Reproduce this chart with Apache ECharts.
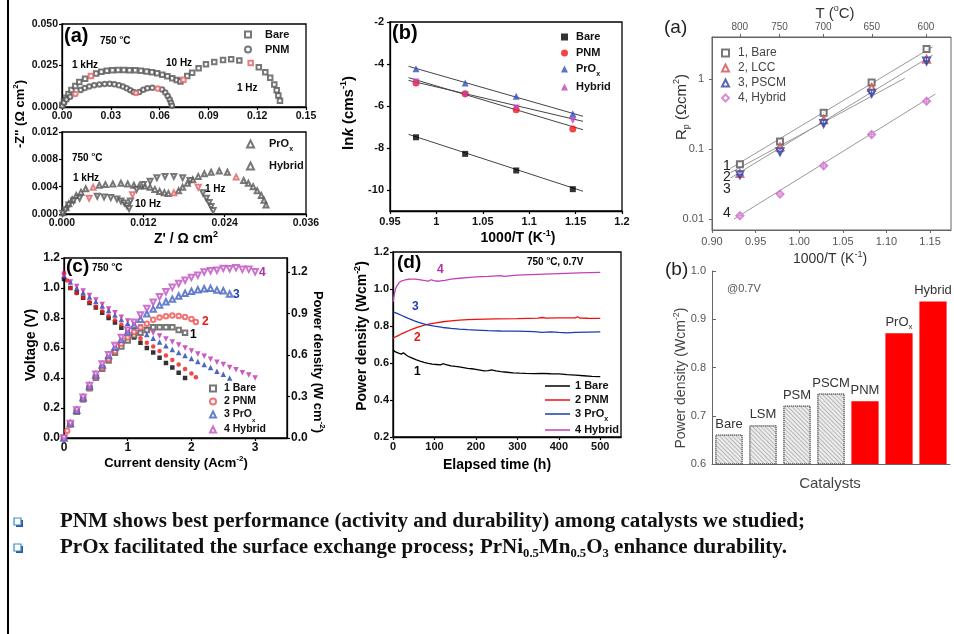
<!DOCTYPE html>
<html><head><meta charset="utf-8">
<script src="https://cdn.jsdelivr.net/npm/echarts@6/dist/echarts.min.js"></script>
<style>html,body{margin:0;padding:0;background:#fff}#c{width:954px;height:634px}</style>
</head><body><div id="c"></div><script>
// ---------- (a) Nyquist, 750 C : [Z', -Z''] ----------
const nyqBare = [[0.0002,0.0012],[0.0012,0.0033],[0.0024,0.0055],[0.0040,0.0078],[0.0058,0.0102],[0.0082,0.0127],[0.0106,0.0150],[0.0142,0.0170],[0.0210,0.0202],[0.0242,0.0212],[0.0276,0.0218],[0.0310,0.0222],[0.0345,0.0223],[0.0380,0.0223],[0.0415,0.0222],[0.0450,0.0221],[0.0485,0.0218],[0.0520,0.0214],[0.0553,0.0209],[0.0585,0.0203],[0.0617,0.0195],[0.0648,0.0185],[0.0678,0.0173],[0.0705,0.0162],[0.0728,0.0154],[0.0770,0.0186],[0.0800,0.0206],[0.0840,0.0233],[0.0885,0.0257],[0.0936,0.0271],[0.0990,0.0283],[0.1040,0.0287],[0.1090,0.0280],[0.1210,0.0240],[0.1250,0.0210],[0.1280,0.0176],[0.1305,0.0136],[0.1320,0.0101],[0.1330,0.0069],[0.1340,0.0038]];
const nyqBareHz = [[0.0178,0.0186],[0.0746,0.0164],[0.1160,0.0265]];
const nyqPNM = [[0.0002,0.0008],[0.0012,0.0026],[0.0028,0.0045],[0.0050,0.0062],[0.0115,0.0103],[0.0140,0.0114],[0.0168,0.0124],[0.0198,0.0131],[0.0230,0.0136],[0.0262,0.0139],[0.0293,0.0140],[0.0322,0.0137],[0.0350,0.0131],[0.0375,0.0123],[0.0398,0.0113],[0.0420,0.0101],[0.0440,0.0090],[0.0475,0.0090],[0.0500,0.0104],[0.0525,0.0113],[0.0555,0.0116],[0.0615,0.0106],[0.0635,0.0088],[0.0650,0.0066],[0.0662,0.0045],[0.0670,0.0026],[0.0676,0.0008]];
const nyqPNMHz = [[0.0082,0.0079],[0.0455,0.0085],[0.0588,0.0111]];
const nyqPrOx = [[0.0001,0.0002],[0.0006,0.0009],[0.0010,0.0015],[0.0015,0.0021],[0.0021,0.0027],[0.0028,0.0032],[0.0035,0.0037],[0.0055,0.0042],[0.0064,0.0043],[0.0075,0.0044],[0.0087,0.0045],[0.0097,0.0044],[0.0106,0.0042],[0.0114,0.0041],[0.0122,0.0041],[0.0130,0.0039],[0.0137,0.0036],[0.0144,0.0033],[0.0151,0.0031],[0.0157,0.0030],[0.0172,0.0034],[0.0178,0.0039],[0.0185,0.0045],[0.0193,0.0050],[0.0201,0.0055],[0.0210,0.0059],[0.0220,0.0061],[0.0232,0.0063],[0.0244,0.0061],[0.0268,0.0049],[0.0275,0.0045],[0.0282,0.0040],[0.0288,0.0034],[0.0294,0.0027],[0.0298,0.0020],[0.0301,0.0013]];
const nyqPrOxHz = [[0.0046,0.0039],[0.0165,0.0031],[0.0257,0.0054]];
const nyqHybrid = [[0.0001,0.0001],[0.0005,0.0006],[0.0010,0.0013],[0.0017,0.0019],[0.0026,0.0023],[0.0052,0.0026],[0.0062,0.0025],[0.0072,0.0024],[0.0081,0.0022],[0.0087,0.0019],[0.0092,0.0016],[0.0096,0.0012],[0.0099,0.0008],[0.0101,0.0019],[0.0110,0.0036],[0.0120,0.0043],[0.0130,0.0048],[0.0140,0.0053],[0.0152,0.0055],[0.0165,0.0055],[0.0178,0.0053],[0.0189,0.0049],[0.0208,0.0031],[0.0213,0.0023],[0.0217,0.0017],[0.0220,0.0011],[0.0223,0.0005]];
const nyqHybridHz = [[0.0040,0.0023],[0.0104,0.0028],[0.0201,0.0039]];

// ---------- (b) ln k vs 1000/T ----------
const invT_b = [0.978, 1.031, 1.086, 1.147];
const lnkBare = [-7.49, -8.28, -9.07, -9.96];
const lnkPNM = [-4.91, -5.42, -6.18, -7.10];
const lnkPrOx = [-4.23, -4.91, -5.53, -6.37];
const lnkHybrid = [-4.86, -5.47, -6.10, -6.69];
const fitLnkBare = [[0.970,-7.35],[1.158,-10.06]];
const fitLnkPNM = [[0.970,-4.65],[1.158,-7.13]];
const fitLnkPrOx = [[0.970,-4.11],[1.158,-6.49]];
const fitLnkHybrid = [[0.970,-4.78],[1.158,-6.73]];

// ---------- (a, right) Rp vs 1000/T ----------
const invT_r = [0.932, 0.978, 1.028, 1.083, 1.146];
const tempTicks = [800, 750, 700, 650, 600];
const rpBare = [0.061, 0.129, 0.33, 0.895, 2.69];
const rpLCC = [0.045, 0.107, 0.263, 0.76, 1.92];
const rpPSCM = [0.043, 0.092, 0.232, 0.63, 1.82];
const rpHybrid = [0.0112, 0.0228, 0.058, 0.162, 0.484];
const fitRpBare = [[0.921,0.053],[1.153,2.90]];
const fitRpLCC = [[0.921,0.046],[1.121,1.03]];
const fitRpPSCM = [[0.921,0.0385],[1.153,2.21]];
const fitRpHybrid = [[0.925,0.0100],[1.156,0.612]];

// ---------- (c) I-V-P at 750 C ----------
const ivBareV = [[0,1.06],[0.1,1.00],[0.2,0.97],[0.3,0.935],[0.4,0.90],[0.5,0.87],[0.6,0.835],[0.7,0.80],[0.8,0.77],[0.9,0.735],[1.0,0.705],[1.1,0.67],[1.2,0.635],[1.3,0.60],[1.4,0.57],[1.5,0.535],[1.6,0.50],[1.7,0.47],[1.8,0.435],[1.9,0.40]];
const ivBareP = [[0,0],[0.1,0.10],[0.2,0.19],[0.3,0.28],[0.4,0.36],[0.5,0.435],[0.6,0.50],[0.7,0.56],[0.8,0.615],[0.9,0.66],[1.0,0.705],[1.1,0.74],[1.2,0.76],[1.3,0.78],[1.4,0.80],[1.5,0.80],[1.6,0.80],[1.7,0.80],[1.8,0.78],[1.9,0.76]];
const ivPNMV = [[0,1.10],[0.05,1.05],[0.1,1.00],[0.2,0.965],[0.3,0.935],[0.4,0.905],[0.5,0.875],[0.6,0.845],[0.7,0.815],[0.8,0.785],[0.9,0.755],[1.0,0.725],[1.1,0.695],[1.2,0.665],[1.3,0.635],[1.4,0.61],[1.5,0.58],[1.6,0.55],[1.7,0.52],[1.8,0.49],[1.9,0.46],[2.0,0.43],[2.07,0.405]];
const ivPNMP = [[0,0],[0.05,0.053],[0.1,0.10],[0.2,0.193],[0.3,0.28],[0.4,0.362],[0.5,0.438],[0.6,0.507],[0.7,0.57],[0.8,0.628],[0.9,0.68],[1.0,0.725],[1.1,0.765],[1.2,0.798],[1.3,0.826],[1.4,0.854],[1.5,0.87],[1.6,0.88],[1.7,0.884],[1.8,0.882],[1.9,0.874],[2.0,0.86],[2.07,0.838]];
const ivPrOxV = [[0,1.08],[0.1,1.04],[0.2,1.00],[0.3,0.97],[0.4,0.94],[0.5,0.91],[0.6,0.88],[0.7,0.85],[0.8,0.82],[0.9,0.79],[1.0,0.765],[1.1,0.74],[1.2,0.715],[1.3,0.69],[1.4,0.665],[1.5,0.64],[1.6,0.615],[1.7,0.59],[1.8,0.57],[1.9,0.55],[2.0,0.53],[2.1,0.51],[2.2,0.49],[2.3,0.47],[2.4,0.445],[2.5,0.425],[2.6,0.40]];
const ivPrOxP = [[0,0],[0.1,0.104],[0.2,0.20],[0.3,0.291],[0.4,0.376],[0.5,0.455],[0.6,0.528],[0.7,0.595],[0.8,0.656],[0.9,0.711],[1.0,0.765],[1.1,0.814],[1.2,0.858],[1.3,0.897],[1.4,0.931],[1.5,0.96],[1.6,0.984],[1.7,1.003],[1.8,1.026],[1.9,1.045],[2.0,1.06],[2.1,1.071],[2.2,1.078],[2.3,1.081],[2.4,1.068],[2.5,1.063],[2.6,1.04]];
const ivHybridV = [[0,1.08],[0.1,1.04],[0.2,1.01],[0.3,0.98],[0.4,0.95],[0.5,0.92],[0.6,0.89],[0.7,0.86],[0.8,0.835],[0.9,0.805],[1.0,0.78],[1.1,0.76],[1.2,0.74],[1.3,0.72],[1.4,0.70],[1.5,0.68],[1.6,0.66],[1.7,0.64],[1.8,0.62],[1.9,0.60],[2.0,0.58],[2.1,0.56],[2.2,0.545],[2.3,0.525],[2.4,0.505],[2.5,0.49],[2.6,0.47],[2.7,0.455],[2.8,0.435],[2.9,0.42],[3.0,0.40]];
const ivHybridP = [[0,0],[0.1,0.104],[0.2,0.202],[0.3,0.294],[0.4,0.38],[0.5,0.46],[0.6,0.534],[0.7,0.602],[0.8,0.668],[0.9,0.725],[1.0,0.78],[1.1,0.836],[1.2,0.888],[1.3,0.936],[1.4,0.98],[1.5,1.02],[1.6,1.056],[1.7,1.088],[1.8,1.116],[1.9,1.14],[2.0,1.16],[2.1,1.176],[2.2,1.199],[2.3,1.208],[2.4,1.212],[2.5,1.225],[2.6,1.222],[2.7,1.229],[2.8,1.218],[2.9,1.218],[3.0,1.20]];

// ---------- (d) durability at 750 C, 0.7 V : [h, W cm-2] ----------
const durBare = [[0,0.672],[3,0.665],[6,0.66],[10,0.657],[15,0.652],[20,0.648],[25,0.655],[28,0.645],[35,0.638],[45,0.628],[55,0.618],[65,0.61],[75,0.603],[85,0.598],[95,0.594],[105,0.592],[115,0.59],[120,0.596],[124,0.586],[130,0.59],[140,0.584],[150,0.582],[160,0.579],[170,0.575],[180,0.571],[190,0.569],[200,0.566],[210,0.562],[220,0.557],[230,0.559],[238,0.563],[242,0.566],[248,0.557],[260,0.553],[275,0.55],[290,0.547],[305,0.545],[320,0.544],[340,0.543],[360,0.544],[380,0.542],[400,0.541],[420,0.537],[440,0.534],[460,0.531],[480,0.528],[500,0.526]];
const durPNM = [[0,0.735],[10,0.745],[20,0.757],[30,0.767],[40,0.777],[50,0.786],[60,0.794],[70,0.801],[80,0.807],[90,0.812],[100,0.816],[120,0.823],[140,0.828],[160,0.832],[180,0.835],[200,0.836],[250,0.838],[300,0.84],[350,0.843],[360,0.846],[370,0.843],[400,0.844],[440,0.844],[445,0.85],[450,0.843],[470,0.842],[500,0.841]];
const durPrOx = [[0,0.876],[10,0.868],[20,0.858],[30,0.848],[40,0.838],[50,0.829],[60,0.821],[70,0.814],[80,0.808],[90,0.803],[100,0.799],[120,0.792],[140,0.787],[160,0.783],[180,0.78],[200,0.778],[230,0.775],[260,0.773],[300,0.772],[340,0.77],[360,0.766],[380,0.768],[400,0.765],[420,0.763],[440,0.766],[470,0.767],[500,0.768]];
const durHybrid = [[0,0.93],[3,0.97],[6,1.0],[10,1.02],[15,1.035],[20,1.043],[30,1.05],[40,1.053],[55,1.053],[70,1.048],[85,1.043],[92,1.05],[95,1.06],[98,1.045],[110,1.042],[125,1.047],[140,1.053],[160,1.058],[180,1.062],[200,1.065],[230,1.068],[260,1.072],[268,1.068],[300,1.075],[350,1.079],[400,1.083],[450,1.087],[500,1.09]];

// ---------- (b, right) power density @0.7V ----------
const catalysts = ['Bare','LSM','PSM','PSCM','PNM','PrOx','Hybrid'];
const pd07 = [0.661, 0.680, 0.721, 0.746, 0.730, 0.871, 0.937];
const catalystIsNew = [false,false,false,false,true,true,true];

// ---------- bullet text ----------
const bullet1 = 'PNM shows best performance (activity and durability) among catalysts we studied;';
const bullet2Parts = [['n','PrOx facilitated the surface exchange process; PrNi'],['s','0.5'],['n','Mn'],['s','0.5'],['n','O'],['s','3'],['n',' enhance durability.']];

// =====================================================================
const F = "'Liberation Sans', Arial, Helvetica, sans-serif";
const FS = "'Liberation Serif', 'Times New Roman', serif";
const BLK = '#000', GRY = '#666';
const colRed = '#f01818', colBlue = '#2040b0', colMag = '#c030b0';

function rich(size, color, weight, family) {
  family = family || F;
  return {
    n: {fontSize: size, color, fontWeight: weight, fontFamily: family},
    s: {fontSize: Math.round(size*0.6), color, fontWeight: weight, fontFamily: family, verticalAlign: 'bottom', padding: [0,0,-2,0]},
    u: {fontSize: Math.round(size*0.62), color, fontWeight: weight, fontFamily: family, verticalAlign: 'top', padding: [-2,0,0,0]},
    i: {fontSize: size, color, fontWeight: weight, fontFamily: family, fontStyle: 'italic'}
  };
}

function valAxis(dark, o) {
  const ax = {
    type: 'value',
    splitLine: {show: false},
    axisLine: {show: true, onZero: false, lineStyle: {color: dark ? BLK : GRY, width: dark ? 1.3 : 1}},
    axisTick: {show: true, inside: false, length: 3, lineStyle: {color: dark ? BLK : GRY, width: dark ? 1.2 : 1}},
    axisLabel: {fontFamily: F, fontSize: 10.5, fontWeight: dark ? 'bold' : 'normal', color: dark ? '#111' : '#555', margin: 4}
  };
  for (const k in o) {
    if (ax[k] && typeof ax[k] === 'object' && !Array.isArray(ax[k]) && typeof o[k] === 'object') ax[k] = Object.assign({}, ax[k], o[k]);
    else ax[k] = o[k];
  }
  return ax;
}
const fx = d => v => v.toFixed(d);
const tT = t => 1000 / (t + 273.15);

function gtext(x, y, text, size, color, weight, opt) {
  opt = opt || {};
  const el = {
    type: 'text', x, y, rotation: opt.rot || 0, z: 100,
    style: {
      text, fill: color, fontSize: size, fontWeight: weight, fontFamily: opt.family || F,
      textAlign: opt.align || 'left', align: opt.align || 'left',
      textVerticalAlign: 'middle', verticalAlign: 'middle',
      rich: rich(size, color, weight, opt.family)
    }
  };
  if (opt.scaleX) el.scaleX = opt.scaleX;
  return el;
}

// the reference bullet lines run from x=60 to about x=805 in a condensed Times Bold
const BFS = 20;
const mctx = document.createElement('canvas').getContext('2d');
mctx.font = "bold " + BFS + "px " + FS;
const b1w = mctx.measureText(bullet1).width;
const bScale = 745 / b1w;
const bullet2Rich = bullet2Parts.map(p => '{' + p[0] + '|' + p[1] + '}').join('');

const scat = (name, data, x, y, symbol, color, size, extra) => Object.assign({
  type: 'scatter', name, data, xAxisIndex: x, yAxisIndex: y, symbol, symbolSize: size,
  itemStyle: {color, borderWidth: 0.9}, emphasis: {disabled: true}, z: 3
}, extra || {});
const fitLine = (name, data, x, y, color) => ({
  type: 'line', name, data, xAxisIndex: x, yAxisIndex: y, showSymbol: false, symbol: 'none',
  lineStyle: {color, width: 1}, itemStyle: {color}, emphasis: {disabled: true}, z: 2, silent: true
});
const durLine = (name, data, color) => ({
  type: 'line', name, data, xAxisIndex: 6, yAxisIndex: 6, showSymbol: false, symbol: 'none',
  lineStyle: {color, width: 1.3}, itemStyle: {color}, emphasis: {disabled: true}, z: 2
});

const dispNames = {
  aBare: 'Bare', aPNM: 'PNM', aPrOx: '{n|PrO}{s|x}', aHybrid: 'Hybrid',
  bBare: 'Bare', bPNM: 'PNM', bPrOx: '{n|PrO}{s|x}', bHybrid: 'Hybrid',
  rBare: '1, Bare', rLCC: '2, LCC', rPSCM: '3, PSCM', rHybrid: '4, Hybrid',
  cBare: '1 Bare', cPNM: '2 PNM', cPrOx: '{n|3 PrO}{s|x}', cHybrid: '4 Hybrid',
  dBare: '1 Bare', dPNM: '2 PNM', dPrOx: '{n|3 PrO}{s|x}', dHybrid: '4 Hybrid'
};
function legend(names, left, top, gap, size, color, weight, iw, ih, lh, textPad, icon) {
  const r = rich(size, color, weight);
  r.n.lineHeight = lh; r.s.lineHeight = lh;
  const lg = {
    orient: 'vertical', left, top, itemGap: gap, itemWidth: iw, itemHeight: ih,
    selectedMode: false, padding: 0, data: names,
    formatter: n => dispNames[n].indexOf('{') >= 0 ? dispNames[n] : '{n|' + dispNames[n] + '}',
    textStyle: {fontFamily: F, fontSize: size, fontWeight: weight, color, lineHeight: lh, rich: r, padding: [0,0,0,textPad || 0]},
    itemStyle: {borderWidth: 0.9}
  };
  if (icon) { lg.icon = icon; lg.itemStyle = {borderWidth: 0}; }
  return lg;
}

const option = {
  animation: false,
  backgroundColor: '#fff',
  grid: [
    {left: 62, top: 24, width: 244, height: 83, show: true, borderColor: BLK, borderWidth: 1.3},   // 0 a-top
    {left: 62, top: 132, width: 244, height: 82, show: true, borderColor: BLK, borderWidth: 1.3},  // 1 a-bottom
    {left: 390, top: 22, width: 232, height: 189, show: true, borderColor: BLK, borderWidth: 1.3}, // 2 b
    {left: 712, top: 37, width: 239, height: 193, show: true, borderColor: GRY, borderWidth: 1},   // 3 Rp
    {left: 64, top: 258, width: 223, height: 180, show: true, borderColor: BLK, borderWidth: 1.3}, // 4 c
    {left: 393, top: 252, width: 228, height: 185, show: true, borderColor: BLK, borderWidth: 1.3},// 5 d
    {left: 712, top: 271, width: 238, height: 193, show: false}                                     // 6 bars
  ],
  xAxis: [
    valAxis(true, {gridIndex: 0, min: 0, max: 0.15, interval: 0.03, axisLabel: {formatter: fx(2)}}),
    valAxis(true, {gridIndex: 1, min: 0, max: 0.036, interval: 0.012, axisLabel: {formatter: fx(3)}}),
    valAxis(true, {gridIndex: 2, min: 0.95, max: 1.2, interval: 0.05, axisLabel: {fontSize: 11, margin: 5}}),
    valAxis(false, {gridIndex: 3, min: 0.90, max: 1.174, interval: 0.05, axisLabel: {formatter: fx(2), showMaxLabel: false, fontSize: 11, margin: 6}}),
    valAxis(false, {gridIndex: 3, position: 'top', min: 0.90, max: 1.174,
      axisTick: {customValues: tempTicks.map(tT)},
      axisLabel: {customValues: tempTicks.map(tT), formatter: v => String(Math.round(1000 / v - 273.15)), fontSize: 10, margin: 5}}),
    valAxis(true, {gridIndex: 4, min: 0, max: 3.5, interval: 1, axisLabel: {showMaxLabel: false, fontSize: 12}}),
    valAxis(true, {gridIndex: 5, min: 0, max: 550, interval: 100, axisLabel: {showMaxLabel: false, fontSize: 11}}),
    {type: 'category', gridIndex: 6, data: catalysts, axisLabel: {show: false},
      axisLine: {lineStyle: {color: GRY}}, axisTick: {alignWithLabel: true, length: 4, lineStyle: {color: GRY}}}
  ],
  yAxis: [
    valAxis(true, {gridIndex: 0, min: 0, max: 0.05, interval: 0.025, axisLabel: {formatter: fx(3)}}),
    valAxis(true, {gridIndex: 1, min: 0, max: 0.012, interval: 0.004, axisLabel: {formatter: fx(3)}}),
    valAxis(true, {gridIndex: 2, min: -11, max: -2, interval: 1,
      axisTick: {customValues: [-10,-8,-6,-4,-2]},
      axisLabel: {customValues: [-10,-8,-6,-4,-2], fontSize: 11, margin: 6}}),
    valAxis(false, {gridIndex: 3, type: 'log', logBase: 10, min: 0.007, max: 4,
      axisLabel: {showMinLabel: false, showMaxLabel: false, fontSize: 11, margin: 8, formatter: v => String(+(+v).toPrecision(2))}}),
    valAxis(true, {gridIndex: 4, min: 0, max: 1.2, interval: 0.2, axisLabel: {formatter: fx(1), fontSize: 12}}),
    valAxis(true, {gridIndex: 4, position: 'right', min: 0, max: 1.3, interval: 0.3, axisLabel: {formatter: fx(1), fontSize: 12, showMaxLabel: false}}),
    valAxis(true, {gridIndex: 5, min: 0.2, max: 1.2, interval: 0.2, axisLabel: {formatter: fx(1), fontSize: 11}}),
    valAxis(false, {gridIndex: 6, min: 0.6, max: 1.0, interval: 0.1, axisLabel: {formatter: fx(1), fontSize: 11, margin: 6},
      axisTick: {inside: true, length: 4}})
  ],
  legend: [
    legend(['aBare','aPNM'], 244, 28, 2, 11, '#111', 'bold', 6, 6, 13, 9),
    legend(['aPrOx','aHybrid'], 246, 137, 6, 11, '#111', 'bold', 7, 7, 14, 10),
    legend(['bBare','bPNM','bPrOx','bHybrid'], 561, 30, 2, 11, '#111', 'bold', 7, 7, 14, 3),
    legend(['rBare','rLCC','rPSCM','rHybrid'], 721, 46, 1, 12, '#444', 'normal', 7, 7, 14, 4),
    legend(['cBare','cPNM','cPrOx','cHybrid'], 209, 382, 0, 10.5, '#111', 'bold', 6, 6, 13, 3),
    legend(['dBare','dPNM','dPrOx','dHybrid'], 545, 379, 0, 11, '#111', 'bold', 25, 1.5, 14, 0, 'rect')
  ],
  series: [
    // (a) top
    scat('aBare', nyqBare, 0, 0, 'emptyRect', '#555', 4.5),
    scat('aPNM', nyqPNM, 0, 0, 'emptyCircle', '#555', 4.5),
    scat('aBareHz', nyqBareHz, 0, 0, 'emptyRect', '#e06060', 4.5),
    scat('aPNMHz', nyqPNMHz, 0, 0, 'emptyCircle', '#e06060', 4.5),
    // (a) bottom
    scat('aPrOx', nyqPrOx, 1, 1, 'emptyTriangle', '#555', 5),
    scat('aHybrid', nyqHybrid, 1, 1, 'emptyTriangle', '#555', 5, {symbolRotate: 180}),
    scat('aPrOxHz', nyqPrOxHz, 1, 1, 'emptyTriangle', '#e06060', 5),
    scat('aHybridHz', nyqHybridHz, 1, 1, 'emptyTriangle', '#e06060', 5, {symbolRotate: 180}),
    // (b)
    fitLine('bFitBare', fitLnkBare, 2, 2, '#444'),
    fitLine('bFitPNM', fitLnkPNM, 2, 2, '#444'),
    fitLine('bFitPrOx', fitLnkPrOx, 2, 2, '#444'),
    fitLine('bFitHybrid', fitLnkHybrid, 2, 2, '#444'),
    scat('bBare', invT_b.map((x, i) => [x, lnkBare[i]]), 2, 2, 'rect', '#000', 6),
    scat('bPNM', invT_b.map((x, i) => [x, lnkPNM[i]]), 2, 2, 'circle', colRed, 7),
    scat('bPrOx', invT_b.map((x, i) => [x, lnkPrOx[i]]), 2, 2, 'triangle', '#2f50c0', 7),
    scat('bHybrid', invT_b.map((x, i) => [x, lnkHybrid[i]]), 2, 2, 'triangle', '#c040c0', 7, {symbolRotate: 180}),
    // Rp
    fitLine('rFitBare', fitRpBare, 3, 3, '#999'),
    fitLine('rFitLCC', fitRpLCC, 3, 3, '#999'),
    fitLine('rFitPSCM', fitRpPSCM, 3, 3, '#999'),
    fitLine('rFitHybrid', fitRpHybrid, 3, 3, '#999'),
    scat('rBare', invT_r.map((x, i) => [x, rpBare[i]]), 3, 3, 'emptyRect', '#555', 6),
    scat('rLCC', invT_r.map((x, i) => [x, rpLCC[i]]), 3, 3, 'emptyTriangle', '#d05050', 7),
    scat('rPSCM', invT_r.map((x, i) => [x, rpPSCM[i]]), 3, 3, 'emptyTriangle', '#3040a0', 7, {symbolRotate: 180}),
    scat('rPSCMx', invT_r.map((x, i) => [x, rpPSCM[i]]), 3, 3, 'path://M5,0L5,10M0,5L10,5', 'rgba(0,0,0,0)', 7, {itemStyle: {color: 'rgba(0,0,0,0)', borderColor: '#3040a0', borderWidth: 1}}),
    scat('rHybrid', invT_r.map((x, i) => [x, rpHybrid[i]]), 3, 3, 'emptyDiamond', '#d070c8', 7),
    scat('rHybridx', invT_r.map((x, i) => [x, rpHybrid[i]]), 3, 3, 'path://M5,0L5,10M0,5L10,5', 'rgba(0,0,0,0)', 7, {itemStyle: {color: 'rgba(0,0,0,0)', borderColor: '#d070c8', borderWidth: 1}}),
    // (c) voltages (filled)
    scat('cBareV', ivBareV, 5, 4, 'rect', '#000', 4.5),
    scat('cPNMV', ivPNMV, 5, 4, 'circle', colRed, 4.5),
    scat('cPrOxV', ivPrOxV, 5, 4, 'triangle', colBlue, 5.5),
    scat('cHybridV', ivHybridV, 5, 4, 'triangle', colMag, 5.5, {symbolRotate: 180}),
    // (c) power (open)
    scat('cBare', ivBareP, 5, 5, 'emptyRect', '#555', 4.5),
    scat('cPNM', ivPNMP, 5, 5, 'emptyCircle', '#ee5050', 4.5),
    scat('cPrOx', ivPrOxP, 5, 5, 'emptyTriangle', '#4060c0', 5.5),
    scat('cHybrid', ivHybridP, 5, 5, 'emptyTriangle', '#c050c0', 5.5, {symbolRotate: 180}),
    // (d)
    durLine('dBare', durBare, '#000'),
    durLine('dPNM', durPNM, '#f01010'),
    durLine('dPrOx', durPrOx, '#1a3cb0'),
    durLine('dHybrid', durHybrid, '#c040b8'),
    // bars
    {
      type: 'bar', name: 'pd07', xAxisIndex: 7, yAxisIndex: 7, barWidth: '80%',
      emphasis: {disabled: true},
      data: pd07.map((v, i) => ({
        value: v,
        itemStyle: catalystIsNew[i]
          ? {color: '#ff0000', borderColor: '#ff0000', borderWidth: 0}
          : {color: '#ececec', borderColor: '#555', borderWidth: 1, borderType: 'dotted',
             decal: {symbol: 'rect', symbolSize: 1, color: 'rgba(90,90,90,0.35)', dashArrayX: [1, 0], dashArrayY: [1, 2], rotation: Math.PI / 4}}
      })),
      label: {
        show: true, position: 'top', distance: 4,
        formatter: p => p.name === 'PrOx' ? '{n|PrO}{s|x}' : '{n|' + p.name + '}',
        rich: rich(13, '#333', 'normal')
      }
    }
  ],
  graphic: [
    // page frame line on left
    {type: 'line', shape: {x1: 8, y1: 0, x2: 8, y2: 634}, style: {stroke: '#000', lineWidth: 2}},
    // (a) Nyquist annotations
    gtext(64, 36, '(a)', 20, '#000', 'bold'),
    gtext(100, 41, '{n|750 }{u|o}{n|C}', 10, '#000', 'bold'),
    gtext(72, 65, '1 kHz', 10, '#000', 'bold'),
    gtext(166, 63, '10 Hz', 10, '#000', 'bold'),
    gtext(237, 88, '1 Hz', 10, '#000', 'bold'),
    gtext(72, 158, '{n|750 }{u|o}{n|C}', 10, '#000', 'bold'),
    gtext(73, 178, '1 kHz', 10, '#000', 'bold'),
    gtext(135, 204, '10 Hz', 10, '#000', 'bold'),
    gtext(205, 189, '1 Hz', 10, '#000', 'bold'),
    gtext(20, 114, "{n|-Z'' (Ω cm}{u|2}{n|)}", 13, '#000', 'bold', {rot: Math.PI / 2, align: 'center'}),
    gtext(186, 239, "{n|Z' / Ω cm}{u|2}", 14, '#000', 'bold', {align: 'center'}),
    // (b)
    gtext(392, 33, '(b)', 20, '#000', 'bold'),
    gtext(349, 113, '{n|ln}{i|k}{n| (cms}{u|-1}{n|)}', 15, '#000', 'bold', {rot: Math.PI / 2, align: 'center'}),
    gtext(518, 238, '{n|1000/T (K}{u|-1}{n|)}', 14, '#000', 'bold', {align: 'center'}),
    // Rp panel
    gtext(664, 28, '(a)', 19, '#222', 'normal'),
    gtext(835, 14, '{n|T (}{u|o}{n|C)}', 15, '#333', 'normal', {align: 'center'}),
    gtext(682, 107, '{n|R}{s|p}{n| (Ωcm}{u|2}{n|)}', 15, '#333', 'normal', {rot: Math.PI / 2, align: 'center'}),
    gtext(723, 166, '1', 14, '#222', 'normal'),
    gtext(723, 177, '2', 14, '#222', 'normal'),
    gtext(723, 189, '3', 14, '#222', 'normal'),
    gtext(723, 213, '4', 14, '#222', 'normal'),
    gtext(830, 259, '{n|1000/T (K}{u|-1}{n|)}', 14, '#333', 'normal', {align: 'center'}),
    // (c)
    gtext(66, 267, '(c)', 19, '#000', 'bold'),
    gtext(92, 268, '{n|750 }{u|o}{n|C}', 10, '#000', 'bold'),
    gtext(190, 335, '1', 12, '#000', 'bold'),
    gtext(202, 322, '2', 12, '#e81818', 'bold'),
    gtext(233, 295, '3', 12, '#2040b0', 'bold'),
    gtext(259, 273, '4', 12, '#b030a8', 'bold'),
    gtext(31, 345, 'Voltage (V)', 14, '#000', 'bold', {rot: Math.PI / 2, align: 'center'}),
    gtext(318, 362, '{n|Power density (W cm}{u|-2}{n|)}', 13, '#000', 'bold', {rot: -Math.PI / 2, align: 'center'}),
    gtext(176, 463, '{n|Current density (Acm}{u|-2}{n|)}', 13, '#000', 'bold', {align: 'center'}),
    // (d)
    gtext(397, 263, '(d)', 19, '#000', 'bold'),
    gtext(527, 262, '{n|750 }{u|o}{n|C, 0.7V}', 10, '#000', 'bold'),
    gtext(437, 270, '4', 12, '#b030a8', 'bold'),
    gtext(412, 307, '3', 12, '#2040b0', 'bold'),
    gtext(414, 338, '2', 12, '#e81818', 'bold'),
    gtext(414, 372, '1', 12, '#000', 'bold'),
    gtext(362, 336, '{n|Power density (Wcm}{u|-2}{n|)}', 14, '#000', 'bold', {rot: Math.PI / 2, align: 'center'}),
    gtext(497, 465, 'Elapsed time (h)', 14, '#000', 'bold', {align: 'center'}),
    // bar panel
    gtext(665, 270, '(b)', 19, '#222', 'normal'),
    gtext(727, 289, '@0.7V', 11, '#555', 'normal'),
    gtext(681, 378, '{n|Power density (Wcm}{u|-2}{n|)}', 14, '#444', 'normal', {rot: Math.PI / 2, align: 'center'}),
    gtext(830, 484, 'Catalysts', 15, '#444', 'normal', {align: 'center'}),
    // bullets
    {type: 'rect', shape: {x: 16, y: 520, width: 7, height: 7}, style: {fill: '#2a5d9a'}},
    {type: 'rect', shape: {x: 14, y: 518, width: 7, height: 7}, style: {fill: '#fff', stroke: '#3a8ad0', lineWidth: 1.2}},
    {type: 'rect', shape: {x: 16, y: 546, width: 7, height: 7}, style: {fill: '#2a5d9a'}},
    {type: 'rect', shape: {x: 14, y: 544, width: 7, height: 7}, style: {fill: '#fff', stroke: '#3a8ad0', lineWidth: 1.2}},
    gtext(60, 522, bullet1, BFS, '#111', 'bold', {family: FS, scaleX: bScale}),
    gtext(60, 548, bullet2Rich, BFS, '#111', 'bold', {family: FS, scaleX: bScale})
  ]
};
const chart = echarts.init(document.getElementById('c'));
chart.setOption(option);
</script></body></html>
